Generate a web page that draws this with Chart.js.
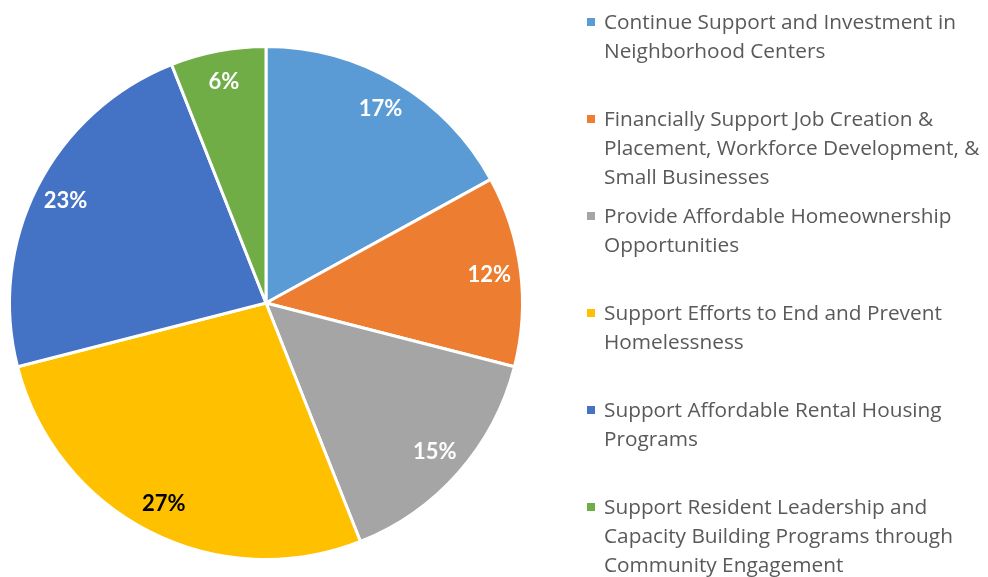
<!DOCTYPE html>
<html>
<head>
<meta charset="utf-8">
<title>Funding Priorities</title>
<script src="https://cdn.jsdelivr.net/npm/chart.js@4"></script>
<style>
    html, body {
        margin: 0;
        padding: 0;
        background: #ffffff;
    }
    #wrap {
        position: relative;
        width: 988px;
        height: 577px;
    }
</style>
</head>
<body>
<div id="wrap">
    <canvas id="priorityChart" width="988" height="577"></canvas>
</div>
<script>
// Priority categories (already wrapped into legend lines)
const categories = [
    ['Continue Support and Investment in', 'Neighborhood Centers'],
    ['Financially Support Job Creation &', 'Placement, Workforce Development, &', 'Small Businesses'],
    ['Provide Affordable Homeownership', 'Opportunities'],
    ['Support Efforts to End and Prevent', 'Homelessness'],
    ['Support Affordable Rental Housing', 'Programs'],
    ['Support Resident Leadership and', 'Capacity Building Programs through', 'Community Engagement']
];

// Share of responses, in percent
const shares = [17, 12, 15, 27, 23, 6];

const sliceColors = ['#5B9BD5', '#ED7D31', '#A5A5A5', '#FFC000', '#4472C4', '#70AD47'];
const labelColors = ['#ffffff', '#ffffff', '#ffffff', '#000000', '#ffffff', '#ffffff'];

// Percent labels inside each slice
const sliceLabels = {
    id: 'sliceLabels',
    afterDatasetsDraw(chart) {
        const ctx = chart.ctx;
        const meta = chart.getDatasetMeta(0);
        ctx.save();
        ctx.font = 'bold 22px Lato, "Open Sans", sans-serif';
        ctx.textAlign = 'center';
        ctx.textBaseline = 'middle';
        meta.data.forEach((arc, i) => {
            const mid = (arc.startAngle + arc.endAngle) / 2;
            const r = arc.outerRadius * 0.877;
            const x = arc.x + Math.cos(mid) * r;
            const y = arc.y + Math.sin(mid) * r;
            ctx.fillStyle = labelColors[i];
            ctx.fillText(shares[i] + '%', x, y);
        });
        ctx.restore();
    }
};

// Legend on the right, fixed row pitch like the office chart
const sideLegend = {
    id: 'sideLegend',
    afterDraw(chart) {
        const ctx = chart.ctx;
        const left = 587;
        const textLeft = 604;
        const firstRow = 22;
        const itemPitch = 97;
        const linePitch = 29;
        ctx.save();
        ctx.font = '20.8px "Open Sans", sans-serif';
        ctx.textBaseline = 'middle';
        ctx.textAlign = 'left';
        categories.forEach((lines, i) => {
            const y = firstRow + itemPitch * i;
            ctx.fillStyle = sliceColors[i];
            ctx.fillRect(left, y - 4, 8, 8);
            ctx.fillStyle = '#595959';
            lines.forEach((line, j) => {
                ctx.fillText(line, textLeft, y + linePitch * j + 1);
            });
        });
        ctx.restore();
    }
};

const ctx = document.getElementById('priorityChart').getContext('2d');

new Chart(ctx, {
    type: 'pie',
    data: {
        labels: categories.map(lines => lines.join(' ')),
        datasets: [{
            data: shares,
            backgroundColor: sliceColors,
            borderColor: '#ffffff',
            borderWidth: 3,
            hoverOffset: 0
        }]
    },
    options: {
        responsive: false,
        animation: false,
        layout: {
            padding: { left: 8, right: 464, top: 44, bottom: 15 }
        },
        plugins: {
            legend: { display: false },
            tooltip: { enabled: false }
        }
    },
    plugins: [sliceLabels, sideLegend]
});
</script>
</body>
</html>
